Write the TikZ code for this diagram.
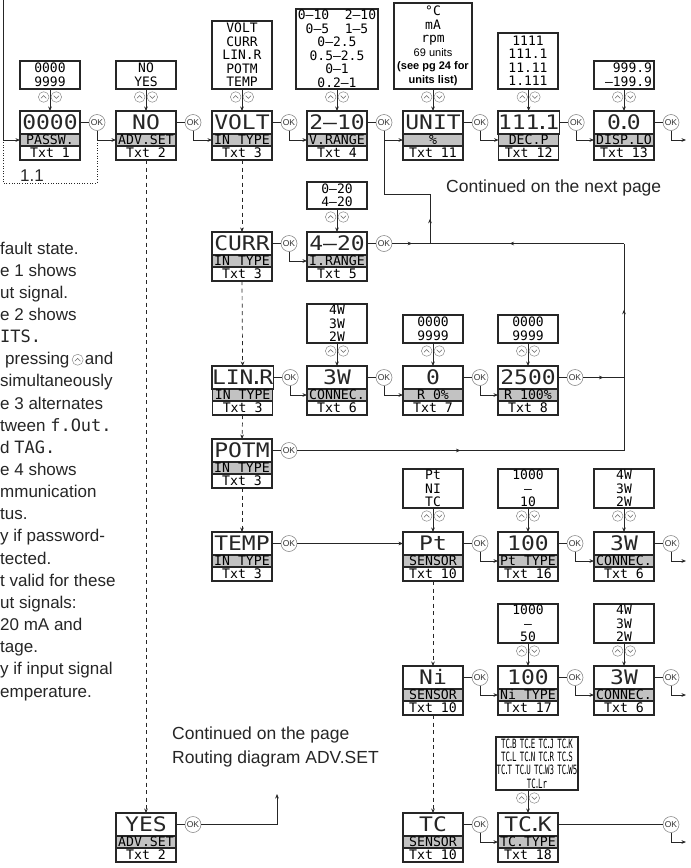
\documentclass[tikz,border=0pt]{standalone}
\usepackage{fontspec}
\setmainfont{Liberation Sans}
\newfontfamily\lcd{DejaVu Sans Mono}
\newfontfamily\lcdbig[FakeStretch=1.15]{DejaVu Sans Mono}
\newfontfamily\lcdn[FakeStretch=0.58]{DejaVu Sans Mono}
\usetikzlibrary{arrows.meta,decorations.markings,calc}

\newcommand{\dotp}{\kern-0.2em.\kern-0.2em}
\newcommand{\tcd}{\kern-0.09em.\kern-0.09em}
\newcommand{\tsp}{\hspace{0.25em}}

\tikzset{
  line/.style={line width=0.7pt, draw=black!85},
  conn/.style={line, -{Stealth[length=4.5pt,width=3.6pt]}},
  dconn/.style={conn, dash pattern=on 4pt off 3.5pt},
  dotline/.style={line, dash pattern=on 1pt off 1.6pt},
  midarr/.style={postaction={decorate}, decoration={markings, mark=at position #1 with {\arrow{Stealth[length=4.5pt,width=3.6pt]}}}},
  valbox/.style={draw=black!85, line width=1.2pt, fill=white, minimum width=60pt, minimum height=23pt, inner sep=0pt, outer sep=0pt, text height=14.6pt, text depth=0pt, text=black!85, font=\lcdbig\fontsize{20}{20}\selectfont},
  lblbox/.style={draw=black!85, line width=1.2pt, fill=black!24, minimum width=60pt, minimum height=12pt, inner sep=0pt, outer sep=0pt, text height=9.6pt, text depth=0pt, font=\lcd\fontsize{13.2}{13.2}\selectfont},
  txtbox/.style={lblbox, fill=white, minimum height=14pt},
  optbox/.style={draw=black!85, line width=1.2pt, fill=white, inner sep=0pt, outer sep=0pt, minimum width=60pt, align=center, font=\lcd\fontsize{13}{13.5}\selectfont},
  okc/.style={circle, draw=black!45, line width=0.6pt, fill=white, minimum size=16pt, inner sep=0pt, outer sep=0pt, font=\fontsize{8.5}{8.5}\selectfont, text=black!80},
  ltxt/.style={anchor=base west, inner sep=0pt, font=\fontsize{17}{17}\selectfont, text=black!85},
  ctxt/.style={anchor=base west, inner sep=0pt, font=\fontsize{17.5}{24}\selectfont, align=left, text=black!85},
  btn/.style={draw=black!45, line width=0.5pt, fill=white},
  chev/.style={draw=black!60, line width=0.55pt},
  updown/.pic={
    \draw[btn] (-6.3,0) circle[radius=5.3pt];
    \draw[btn] (6.3,0) circle[radius=5.3pt];
    \draw[chev] (-9,1.3) -- (-6.3,-1.4) -- (-3.6,1.3);
    \draw[chev] (3.6,-1.3) -- (6.3,1.4) -- (9,-1.3);
  },
  upbtn/.pic={
    \draw[btn] (0,0) circle[radius=5.5pt];
    \draw[chev] (-2.8,1.4) -- (0,-1.4) -- (2.8,1.4);
  }
}

\newcommand{\dispbox}[6]{%
  \node[valbox, anchor=north west] (#1) at (#2,#3) {#4};
  \node[lblbox, anchor=north] (#1l) at (#1.south) {#5};
  \node[txtbox, anchor=north] (#1t) at (#1l.south) {#6};
}
\newcommand{\okbtn}[1]{%
  \node[okc] (ok#1) at ($(#1.east)+(17,0)$) {OK};
  \draw[line] (#1.east) -- (ok#1.west);
}
\newcommand{\optlink}[2]{%
  \draw[conn] (#2.north |- #1.south) -- (#2.north);
  \pic at ($(#2.north |- #1.south)+(0,8)$) {updown};
}

\begin{document}
\begin{tikzpicture}[x=1pt,y=-1pt]
\useasboundingbox (0,0) rectangle (691,868);
\fill[white] (0,0) rectangle (691,868);
\clip (0,0) rectangle (691,868);

% ---------- left text ----------
\node[ltxt] (t1) at (0,254) {fault state.};
\node[ltxt] (t2) at (0,276.15) {e 1 shows};
\node[ltxt] (t3) at (0,298.3) {ut signal.};
\node[ltxt] (t4) at (0,320.45) {e 2 shows};
\node[ltxt] (t5) at (0,342.6) {{\lcd ITS.}};
\node[ltxt] (t6) at (5,364.75) {pressing};
\pic at ($(t6.base east)+(8,-5)$) {upbtn};
\node[ltxt] (t6b) at ($(t6.base east)+(15,0)$) {and};
\node[ltxt] (t7) at (0,386.9) {simultaneously};
\node[ltxt] (t8) at (0,409.05) {e 3 alternates};
\node[ltxt] (t9) at (0,431.2) {tween {\lcd f.Out.}};
\node[ltxt] (t10) at (0,453.35) {d {\lcd TAG.}};
\node[ltxt] (t11) at (0,475.5) {e 4 shows};
\node[ltxt] (t12) at (0,497.65) {mmunication};
\node[ltxt] (t13) at (0,519.8) {tus.};
\node[ltxt] (t14) at (0,541.95) {y if password-};
\node[ltxt] (t15) at (0,564.1) {tected.};
\node[ltxt] (t16) at (0,586.25) {t valid for these};
\node[ltxt] (t17) at (0,608.4) {ut signals:};
\node[ltxt] (t18) at (0,630.55) {20 mA and};
\node[ltxt] (t19) at (0,652.7) {tage.};
\node[ltxt] (t20) at (0,674.85) {y if input signal};
\node[ltxt] (t21) at (0,697) {emperature.};

% ---------- row 1 ----------
\dispbox{P1}{20}{111}{0000}{PASSW.}{Txt 1}
\dispbox{A1}{116}{111}{NO}{ADV.SET}{Txt 2}
\dispbox{V1}{212}{111}{VOLT}{IN TYPE}{Txt 3}
\dispbox{R1}{307}{111}{2–10}{V.RANGE}{Txt 4}
\dispbox{U1}{403}{111}{UNIT}{\%}{Txt 11}
\dispbox{D1}{498}{111}{111\dotp1}{DEC.P}{Txt 12}
\dispbox{L1}{594}{111}{0\dotp0}{DISP.LO}{Txt 13}

\node[optbox, anchor=south, minimum height=28pt] (oP1) at (50,89) {0000\\9999};
\node[optbox, anchor=south, minimum height=28pt] (oA1) at (146,89) {NO\\YES};
\node[optbox, anchor=south, minimum height=68pt] (oV1) at (242,89) {VOLT\\CURR\\LIN.R\\POTM\\TEMP};
\node[optbox, anchor=south, minimum height=80pt, minimum width=82pt] (oR1) at (337,89) {0–10~~2–10\\0–5~~1–5\\0–2.5\\0.5–2.5\\0–1\\0.2–1};
\node[optbox, anchor=south, minimum height=86pt, minimum width=78pt] (oU1) at (433,89) {°C\\mA\\rpm\\{\rmfamily\fontsize{11}{14}\selectfont 69 units}\\{\rmfamily\bfseries\fontsize{11}{14}\selectfont (see pg 24 for}\\{\rmfamily\bfseries\fontsize{11}{14}\selectfont units list)}};
\node[optbox, anchor=south, minimum height=56pt] (oD1) at (528,89) {1111\\111.1\\11.11\\1.111};
\node[optbox, anchor=south, minimum height=28pt, align=right, text width=56pt] (oL1) at (624,89) {999.9\\–199.9};

\optlink{oP1}{P1}
\optlink{oA1}{A1}
\optlink{oV1}{V1}
\optlink{oR1}{R1}
\optlink{oU1}{U1}
\optlink{oD1}{D1}
\optlink{oL1}{L1}

\okbtn{P1}\okbtn{A1}\okbtn{V1}\okbtn{R1}\okbtn{U1}\okbtn{D1}\okbtn{L1}

\coordinate (in0) at (3,0);
\coordinate (dB) at (3,183);
\draw[conn] (in0) |- (P1l.west);
\draw[dotline] (okP1.south |- P1l.west) -- (okP1.south |- dB) -- (dB) -- (in0 |- P1l.west);
\node[anchor=base west, inner sep=0pt, font=\fontsize{17}{17}\selectfont, text=black!85] (lbl11) at (20,181) {1.1};

\draw[conn] (okP1.south) |- (A1l.west);
\draw[conn] (okA1.south) |- (V1l.west);
\draw[conn] (okV1.south) |- (R1l.west);
\draw[conn] (okR1.south) |- (U1l.west);
\draw[conn] (okU1.south) |- (D1l.west);
\draw[conn] (okD1.south) |- (L1l.west);
\coordinate (eL1) at (686,0);
\draw[conn] (okL1.south) |- (eL1 |- L1l.west);

\node[ctxt] (cont1) at (446,192) {Continued on the next page};

% ---------- CURR row ----------
\dispbox{C2}{212}{232}{CURR}{IN TYPE}{Txt 3}
\dispbox{I2}{307}{232}{4–20}{I.RANGE}{Txt 5}
\node[optbox, anchor=south, minimum height=27pt] (oI2) at (337,209) {0–20\\4–20};
\optlink{oI2}{I2}
\okbtn{C2}\okbtn{I2}
\draw[conn] (okC2.south) |- (I2l.west);

% ---------- LIN.R row ----------
\dispbox{L3}{212}{366}{LIN\dotp R}{IN TYPE}{Txt 3}
\dispbox{W3}{307}{366}{3W}{CONNEC.}{Txt 6}
\dispbox{Z3}{403}{366}{0}{R 0\%}{Txt 7}
\dispbox{H3}{498}{366}{2500}{R 100\%}{Txt 8}
\node[optbox, anchor=south, minimum height=39pt] (oW3) at (337,343) {4W\\3W\\2W};
\node[optbox, anchor=south, minimum height=28pt] (oZ3) at (433,343) {0000\\9999};
\node[optbox, anchor=south, minimum height=28pt] (oH3) at (528,343) {0000\\9999};
\optlink{oW3}{W3}
\optlink{oZ3}{Z3}
\optlink{oH3}{H3}
\okbtn{L3}\okbtn{W3}\okbtn{Z3}\okbtn{H3}
\draw[conn] (okL3.south) |- (W3l.west);
\draw[conn] (okW3.south) |- (Z3l.west);
\draw[conn] (okZ3.south) |- (H3l.west);

% ---------- POTM row ----------
\dispbox{P4}{212}{439}{POTM}{IN TYPE}{Txt 3}
\okbtn{P4}

% ---------- bus on the right ----------
\coordinate (j1) at (430,243.5);
\coordinate (j2) at (430,194);
\coordinate (rtop) at (624,243.5);
\coordinate (rbot) at (624,450.5);
\coordinate (r3) at (624,377.5);
\draw[line, midarr=0.53] (okI2.east) -- (j1);
\draw[line, midarr=0.5] (j1) -- (j2);
\draw[line] (j2) -| (okR1.south);
\draw[line, midarr=0.59] (rtop) -- (j1);
\draw[line, midarr=0.68] (rbot) -- (rtop);
\draw[line, midarr=0.5] (okP4.east) -- (rbot);
\draw[line, midarr=0.5] (okH3.east) -- (r3);

% ---------- TEMP row ----------
\dispbox{T5}{212}{532}{TEMP}{IN TYPE}{Txt 3}
\dispbox{S5}{403}{532}{Pt}{SENSOR}{Txt 10}
\dispbox{Y5}{498}{532}{100}{Pt TYPE}{Txt 16}
\dispbox{K5}{594}{532}{3W}{CONNEC.}{Txt 6}
\node[optbox, anchor=south, minimum height=39pt] (oS5) at (433,508) {Pt\\NI\\TC};
\node[optbox, anchor=south, minimum height=39pt] (oY5) at (528,508) {1000\\–\\10};
\node[optbox, anchor=south, minimum height=39pt] (oK5) at (624,508) {4W\\3W\\2W};
\optlink{oS5}{S5}
\optlink{oY5}{Y5}
\optlink{oK5}{K5}
\okbtn{T5}\okbtn{S5}\okbtn{Y5}\okbtn{K5}
\draw[conn] (okT5.east) -- (S5.west);
\draw[conn] (okS5.south) |- (Y5l.west);
\draw[conn] (okY5.south) |- (K5l.west);
\draw[conn] (okK5.south) |- (eL1 |- K5l.west);

% ---------- Ni row ----------
\dispbox{S6}{403}{666}{Ni}{SENSOR}{Txt 10}
\dispbox{Y6}{498}{666}{100}{Ni TYPE}{Txt 17}
\dispbox{K6}{594}{666}{3W}{CONNEC.}{Txt 6}
\node[optbox, anchor=south, minimum height=39pt] (oY6) at (528,643) {1000\\–\\50};
\node[optbox, anchor=south, minimum height=39pt] (oK6) at (624,643) {4W\\3W\\2W};
\optlink{oY6}{Y6}
\optlink{oK6}{K6}
\okbtn{S6}\okbtn{Y6}\okbtn{K6}
\draw[conn] (okS6.south) |- (Y6l.west);
\draw[conn] (okY6.south) |- (K6l.west);
\draw[conn] (okK6.south) |- (eL1 |- K6l.west);

% ---------- TC / YES row ----------
\dispbox{Y7}{116}{813}{YES}{ADV.SET}{Txt 2}
\dispbox{S7}{403}{813}{TC}{SENSOR}{Txt 10}
\dispbox{K7}{498}{813}{TC\dotp K}{TC.TYPE}{Txt 18}
\node[optbox, anchor=south west, minimum height=53pt, minimum width=82pt, font=\lcdn\fontsize{12.8}{13.3}\selectfont] (oK7) at (496,790) {TC\tcd B\tsp TC\tcd E\tsp TC\tcd J\tsp TC\tcd K\\TC\tcd L\tsp TC\tcd N\tsp TC\tcd R\tsp TC\tcd S\\TC\tcd T\tsp TC\tcd U\tsp TC\tcd W3\tsp TC\tcd W5\\TC\tcd Lr};
\optlink{oK7}{K7}
\okbtn{Y7}\okbtn{S7}
\node[okc] (okK7) at (671,824.5) {OK};
\draw[line] (K7.east) -- (okK7.west);
\draw[conn] (okS7.south) |- (K7l.west);
\draw[conn] (okK7.south) |- (eL1 |- K7l.west);

\node[ctxt] (cont2) at (172,763) {Continued on the page\\Routing diagram ADV.SET};
\coordinate (adv) at (277,794);
\draw[conn] (okY7.east) -| (adv);

% ---------- dashed links ----------
\draw[dconn] (A1t.south) -- (Y7.north);
\draw[dconn] (V1t.south) -- (C2.north);
\draw[dconn] (C2t.south) -- (L3.north);
\draw[dconn] (L3t.south) -- (P4.north);
\draw[dconn] (P4t.south) -- (T5.north);
\draw[dconn] (S5t.south) -- (S6.north);
\draw[dconn] (S6t.south) -- (S7.north);
\end{tikzpicture}
\end{document}
